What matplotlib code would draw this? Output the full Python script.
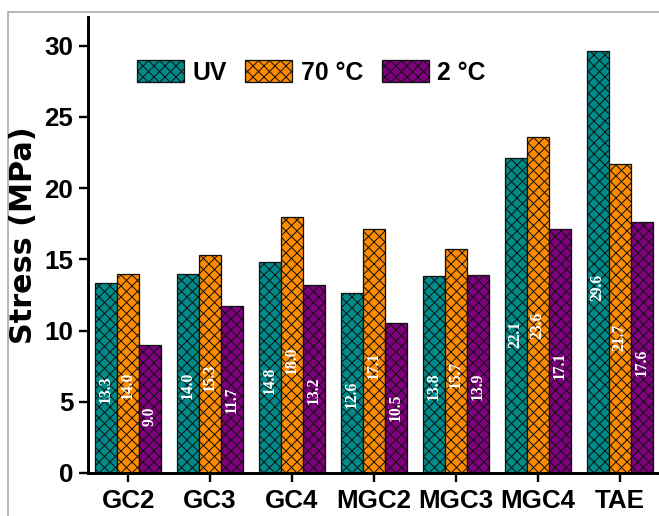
import numpy as np
import matplotlib.pyplot as plt
from matplotlib.patches import Rectangle

# sample names and stress values (MPa) for each curing condition
samples = ["GC2", "GC3", "GC4", "MGC2", "MGC3", "MGC4", "TAE"]
uv = [13.3, 14.0, 14.8, 12.6, 13.8, 22.1, 29.6]
hot = [14.0, 15.3, 18.0, 17.1, 15.7, 23.6, 21.7]
cold = [9.0, 11.7, 13.2, 10.5, 13.9, 17.1, 17.6]

series = [("UV", uv, "#008B8B"), ("70 °C", hot, "#FF8C00"), ("2 °C", cold, "#800080")]

DPI = 132
plt.rcParams["font.family"] = ["Liberation Sans", "DejaVu Sans"]
plt.rcParams["font.weight"] = "bold"
plt.rcParams["hatch.linewidth"] = 0.55

fig = plt.figure(figsize=(659 / DPI, 516 / DPI), dpi=DPI)
ax = fig.add_axes([88 / 659, 43 / 516, 1 - 88 / 659, 456 / 516])

x = np.arange(len(samples))
w = 0.268
for k, (name, vals, col) in enumerate(series):
    pos = x + (k - 1) * w
    bars = ax.bar(pos, vals, w, color=col, edgecolor="#111111", linewidth=0.7,
                  hatch="xxxx", label=name)
    for b, v in zip(bars, vals):
        ax.text(b.get_x() + b.get_width() / 2, v * 0.44, f"{v:.1f}",
                rotation=90, ha="center", va="center", color="white",
                fontsize=8.5, family="Liberation Serif", weight="bold")

ax.set_xlim(-0.49, 6.48)
ax.set_ylim(0, 32)
ax.set_xticks(x)
ax.set_xticklabels(samples)
ax.set_yticks([0, 5, 10, 15, 20, 25, 30])
ax.tick_params(axis="both", direction="out", length=5, width=1.3, labelsize=14.2)
ax.tick_params(axis="y", pad=3)
ax.tick_params(axis="x", pad=4)
for side in ["top", "right"]:
    ax.spines[side].set_visible(False)
for side in ["left", "bottom"]:
    ax.spines[side].set_linewidth(1.6)
ax.set_facecolor("none")

# wide bold face for the axis title
ax.set_ylabel("Stress (MPa)", fontsize=16.5, fontweight="bold", family="DejaVu Sans")
ax.yaxis.set_label_coords(-0.088, 0.522)

ax.legend(loc="upper left", bbox_to_anchor=(0.085, 0.905), ncol=3, frameon=False,
          fontsize=13.5, handlelength=1.9, handleheight=0.95, handletextpad=0.35,
          columnspacing=0.75, borderpad=0, borderaxespad=0)

# thin grey frame around the figure
fig.add_artist(Rectangle((8 / 659, -0.05), 1.0, (516 - 12) / 516 + 0.05,
                         transform=fig.transFigure, fill=False,
                         edgecolor="#a8a8a8", linewidth=0.9, zorder=-1))

fig.savefig("out.png", dpi=DPI)
